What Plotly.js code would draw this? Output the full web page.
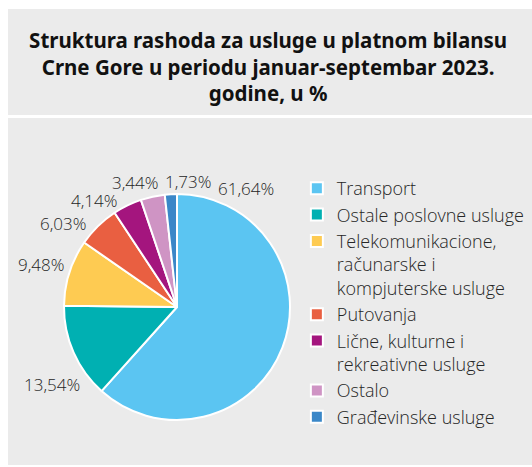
<!DOCTYPE html>
<html><head><meta charset="utf-8">
<script src="https://cdn.plot.ly/plotly-3.0.1.min.js"></script>
<style>html,body{margin:0;padding:0;background:#fff}</style>
</head><body><div id="chart" style="width:532px;height:467px"></div>
<script>
const categories = ["Transport","Ostale poslovne usluge","Telekomunikacione,<br>računarske i<br>kompjuterske usluge","Putovanja","Lične, kulturne i<br>rekreativne usluge","Ostalo","Građevinske usluge"];
const values = [61.64, 13.54, 9.48, 6.03, 4.14, 3.44, 1.73];
const colors = ["#5bc5f2","#00b0b2","#fecb52","#e95f41","#a4157e","#cf94c4","#3a87c8"];
// label anchor positions in pixels (x from left, y from top)
const labelPx = [[246,189],[52,384],[41,264],[63,224],[94,200],[135,183],[188,181]];

const W = 532, H = 467;
const fmt = v => v.toFixed(2).replace('.',',') + '%';
const labelFont = {family:"Open Sans", size:17, color:"#262626", weight:300};
const trace = {
  type:"pie", labels:categories, values:values, sort:false, direction:"clockwise", rotation:0,
  marker:{colors:colors, line:{color:"#ffffff", width:2}},
  textinfo:"none", hoverinfo:"label+percent",
  domain:{x:[64/W,290/W], y:[47/H,273/H]}
};
const layout = {
  width:W, height:H, margin:{l:0,r:0,t:0,b:0},
  paper_bgcolor:"#ffffff", plot_bgcolor:"#ffffff",
  showlegend:true,
  legend:{x:0.558, y:0.636, xanchor:"left", yanchor:"top", valign:"top", font:{family:"Open Sans", size:18, color:"#262626", weight:300}, bgcolor:"rgba(0,0,0,0)"},
  title:{text:"Struktura rashoda za usluge u platnom bilansu<br>Crne Gore u periodu januar-septembar 2023.<br>godine, u %",
    font:{family:"Noto Sans", size:20.5, color:"#111", weight:700}, x:0.504, xanchor:"center", y:0.897, yanchor:"middle"},
  shapes:[
    {type:"rect", xref:"paper", yref:"paper", x0:8/W, x1:1, y0:352/H, y1:458/H, fillcolor:"#ebebeb", line:{width:0}, layer:"below"},
    {type:"rect", xref:"paper", yref:"paper", x0:8/W, x1:1, y0:2/H, y1:349/H, fillcolor:"#ebebeb", line:{width:0}, layer:"below"}
  ],
  annotations: values.map((v,i)=>({xref:"paper", yref:"paper", x:labelPx[i][0]/W, y:(H-labelPx[i][1])/H,
    xanchor:"center", yanchor:"middle", text:fmt(v), showarrow:false, font:labelFont}))
};
Plotly.newPlot("chart",[trace],layout,{displayModeBar:false});
</script></body></html>
